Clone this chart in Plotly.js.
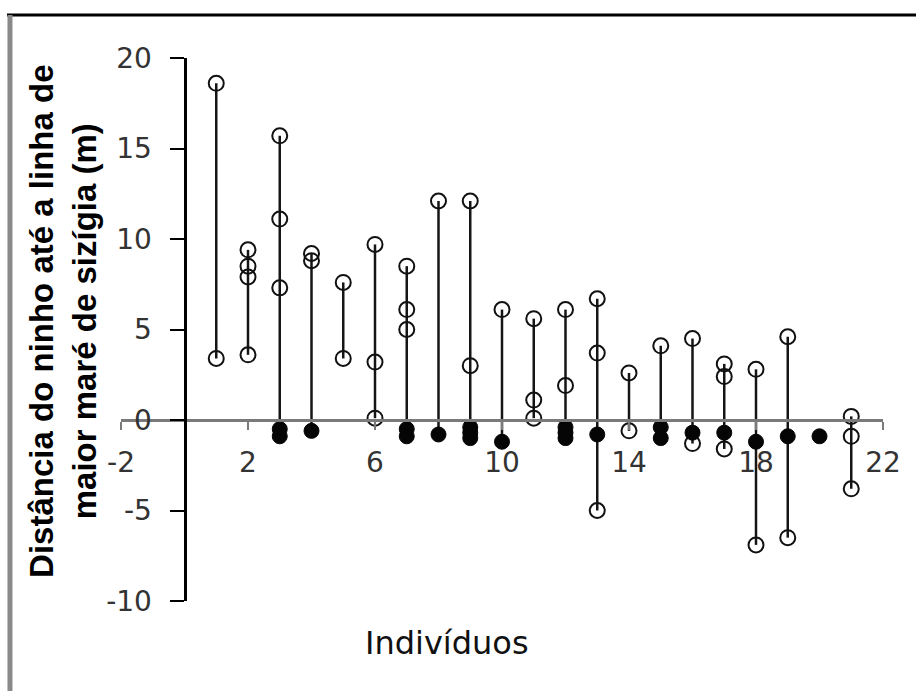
<!DOCTYPE html>
<html>
<head>
<meta charset="utf-8">
<script src="https://cdn.plot.ly/plotly-3.0.1.min.js"></script>
<style>
  html, body { margin: 0; padding: 0; background: #ffffff; }
  #chart { width: 916px; height: 691px; }
</style>
</head>
<body>
<div id="chart"></div>
<script>
// Individual number (x position of each stem)
const individuals = [1, 2, 3, 4, 5, 6, 7, 8, 9, 10, 11, 12, 13, 14, 15, 16, 17, 18, 19, 20, 21];

// Nest distances (m) drawn as open circles, one list per individual
const openDistances = [
  [18.6, 3.4],
  [9.4, 8.5, 7.9, 3.6],
  [15.7, 11.1, 7.3],
  [9.2, 8.8],
  [7.6, 3.4],
  [9.7, 3.2, 0.1],
  [8.5, 6.1, 5.0],
  [12.1],
  [12.1, 3.0],
  [6.1],
  [5.6, 1.1, 0.1],
  [6.1, 1.9],
  [6.7, 3.7, -5.0],
  [2.6, -0.6],
  [4.1],
  [4.5, -1.3],
  [3.1, 2.4, -1.6],
  [2.8, -6.9],
  [4.6, -6.5],
  [],
  [0.2, -0.9, -3.8]
];

// Nest distances (m) drawn as filled circles, one list per individual
const filledDistances = [
  [],
  [],
  [-0.5, -0.9],
  [-0.6],
  [],
  [],
  [-0.5, -0.9],
  [-0.8],
  [-0.4, -0.7, -1.0],
  [-1.2],
  [],
  [-0.4, -0.7, -1.0],
  [-0.8],
  [],
  [-0.4, -1.0],
  [-0.7],
  [-0.7],
  [-1.2],
  [-0.9],
  [-0.9],
  []
];

const xTickValues = [-2, 2, 6, 10, 14, 18, 22];
const yTickValues = [-10, -5, 0, 5, 10, 15, 20];
// plain hyphen for negatives
const xTickLabels = xTickValues.map(v => String(v));
const yTickLabels = yTickValues.map(v => String(v));

const xTitle = 'Indivíduos';
const yTitleLines = ['Distância do ninho até a linha de', 'maior maré de sizígia (m)'];

// Vertical range lines, one per individual, spanning all of its nests
const stemX = [], stemY = [];
individuals.forEach((ind, i) => {
  const vals = openDistances[i].concat(filledDistances[i]);
  if (vals.length > 1) {
    stemX.push(ind, ind, null);
    stemY.push(Math.max(...vals), Math.min(...vals), null);
  }
});

const openX = [], openY = [], filledX = [], filledY = [];
individuals.forEach((ind, i) => {
  openDistances[i].forEach(v => { openX.push(ind); openY.push(v); });
  filledDistances[i].forEach(v => { filledX.push(ind); filledY.push(v); });
});

const traces = [
  {
    type: 'scatter', mode: 'lines', x: stemX, y: stemY,
    line: { color: '#151515', width: 2.5 }, hoverinfo: 'skip', cliponaxis: false
  },
  {
    type: 'scatter', mode: 'markers', x: openX, y: openY,
    marker: { symbol: 'circle-open', size: 15, color: '#111111', line: { width: 2, color: '#111111' } },
    cliponaxis: false
  },
  {
    type: 'scatter', mode: 'markers', x: filledX, y: filledY,
    marker: { symbol: 'circle', size: 15, color: '#050505', line: { width: 1, color: '#050505' } },
    cliponaxis: false
  }
];

const tickFont = { family: 'DejaVu Sans, Liberation Sans, Arial, sans-serif', size: 28, color: '#333333' };

const layout = {
  width: 916,
  height: 691,
  margin: { l: 121, r: 33, t: 58, b: 90, pad: 0 },
  paper_bgcolor: '#ffffff',
  plot_bgcolor: 'rgba(0,0,0,0)',
  showlegend: false,
  xaxis: {
    range: [-2, 22],
    anchor: 'free',
    position: 1 / 3,
    showline: true, linecolor: '#7a7a7a', linewidth: 3,
    zeroline: false, showgrid: false,
    tickmode: 'array', tickvals: xTickValues, ticktext: xTickLabels,
    ticks: 'outside', ticklen: 8, tickwidth: 2, tickcolor: '#7a7a7a',
    ticklabelstandoff: 8,
    tickfont: tickFont
  },
  yaxis: {
    range: [-10, 20],
    anchor: 'free',
    position: 2 / 24,
    showline: true, linecolor: '#000000', linewidth: 3,
    zeroline: false, showgrid: false,
    tickmode: 'array', tickvals: yTickValues, ticktext: yTickLabels,
    ticks: 'outside', ticklen: 14, tickwidth: 2, tickcolor: '#000000',
    ticklabelstandoff: 12,
    tickfont: tickFont
  },
  annotations: [
    {
      xref: 'paper', yref: 'paper', x: 0.4278, y: -0.078,
      xanchor: 'center', yanchor: 'middle', showarrow: false,
      text: xTitle,
      font: { family: 'DejaVu Sans, Liberation Sans, sans-serif', size: 32, color: '#111111' }
    },
    {
      xref: 'paper', yref: 'paper', x: -0.0761, y: 0.514,
      xanchor: 'center', yanchor: 'middle', showarrow: false, textangle: -90,
      text: '<b>' + yTitleLines.join('<br>') + '</b>',
      font: { family: 'Liberation Sans, Arial, sans-serif', size: 33, color: '#000000' }
    }
  ],
  shapes: [
    // frame: black rule along the top, grey rule down the left
    { type: 'line', xref: 'paper', yref: 'paper', x0: -0.1496, x1: 1.05, y0: 1.0792, y1: 1.0792,
      line: { color: '#000000', width: 3 } },
    { type: 'line', xref: 'paper', yref: 'paper', x0: -0.1457, x1: -0.1457, y0: 1.0792, y1: -0.2,
      line: { color: '#8a8a8a', width: 5 } }
  ]
};

Plotly.newPlot('chart', traces, layout, { displayModeBar: false, staticPlot: true });
</script>
</body>
</html>
